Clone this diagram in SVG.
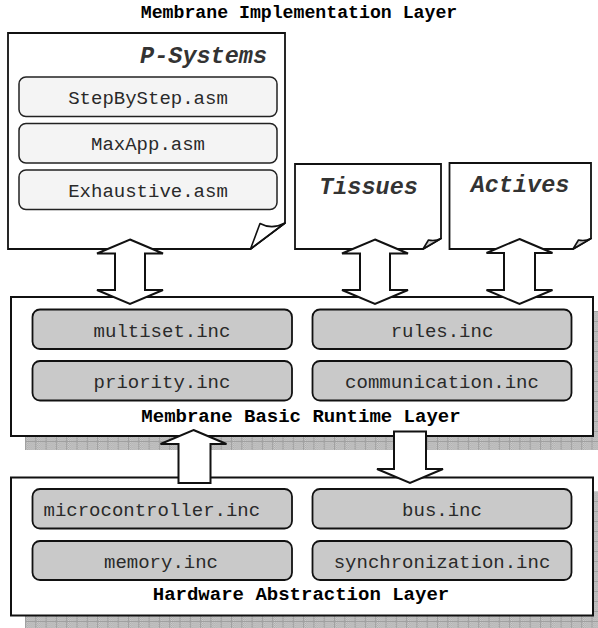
<svg xmlns="http://www.w3.org/2000/svg" width="598" height="628" viewBox="0 0 598 628">
  <defs>
    <!-- dithered grey texture used for the layer drop shadows -->
    <pattern id="dither" width="2" height="2" patternUnits="userSpaceOnUse">
      <rect width="2" height="2" fill="#cccccc"/>
      <rect width="1" height="1" fill="#adadad"/>
      <rect x="1" y="1" width="1" height="1" fill="#adadad"/>
    </pattern>
    <pattern id="shadowGrid" x="25" y="311" width="10.3" height="10" patternUnits="userSpaceOnUse">
      <rect width="10.3" height="10" fill="url(#dither)"/>
      <path d="M0 0.5H10.3M0.5 0V10" stroke="#a0a0a0" stroke-width="1" fill="none"/>
    </pattern>
  </defs>
  <style>
    .layer { fill: #ffffff; stroke: #111111; stroke-width: 2; }
    .shadow { fill: url(#shadowGrid); }
    .doc { fill: #ffffff; stroke: #111111; stroke-width: 1.8; stroke-linejoin: miter; }
    .fold { fill: #ffffff; stroke: #111111; stroke-width: 1.6; stroke-linejoin: round; }
    .foldGrey { fill: #cfcfcf; stroke: #111111; stroke-width: 1.6; stroke-linejoin: round; }
    .appBox { fill: #f4f4f4; stroke: #222222; stroke-width: 1.5; }
    .incBox { fill: #c9c9c9; stroke: #111111; stroke-width: 1.8; }
    .mono { font-family: "Liberation Mono", "Courier New", monospace; font-size: 19px; fill: #2a2a2a; text-anchor: middle; }
    .mono.left { text-anchor: start; }
    .layerLabel { font-family: "Liberation Mono", "Courier New", monospace; font-size: 19px; font-weight: bold; fill: #000000; text-anchor: middle; }
    .heading { font-size: 18.2px; }
    .docTitle { font-family: "Liberation Mono", "Courier New", monospace; font-size: 23.5px; font-weight: bold; font-style: italic; fill: #333333; }
    .arrow { fill: #ffffff; stroke: #111111; stroke-width: 2; stroke-linejoin: miter; }
  </style>

  <!-- page heading -->
  <text class="layerLabel heading" x="299" y="18">Membrane Implementation Layer</text>

  <!-- implementation layer: document shapes -->
  <g id="p-systems">
    <path class="doc" d="M8 33H285V223L250.5 249H8Z"/>
    <path class="fold" d="M250.5 249L260 223.5Q272 230 285 223Z"/>
    <path d="M250.5 249L285 223" stroke="#111" stroke-width="1.4" fill="none"/>
    <text class="docTitle" x="267" y="63" text-anchor="end">P-Systems</text>
    <g id="stepbystep">
      <rect class="appBox" x="19" y="77" width="258" height="39.5" rx="7"/>
      <text class="mono" x="148" y="104">StepByStep.asm</text>
    </g>
    <g id="maxapp">
      <rect class="appBox" x="19" y="123.5" width="258" height="39.5" rx="7"/>
      <text class="mono" x="148" y="150">MaxApp.asm</text>
    </g>
    <g id="exhaustive">
      <rect class="appBox" x="19" y="170" width="258" height="39.5" rx="7"/>
      <text class="mono" x="148" y="196.5">Exhaustive.asm</text>
    </g>
  </g>

  <g id="tissues">
    <path class="doc" d="M295 164H441V238.5L423 249H295Z"/>
    <path class="foldGrey" d="M423 249L428.5 240Q435 241.5 441 238.5Z"/>
    <text class="docTitle" x="368.5" y="194" text-anchor="middle">Tissues</text>
  </g>

  <g id="actives">
    <path class="doc" d="M449.5 163H591V238.5L573 249H449.5Z"/>
    <path class="foldGrey" d="M573 249L578.5 240Q585 241.5 591 238.5Z"/>
    <text class="docTitle" x="520" y="192" text-anchor="middle">Actives</text>
  </g>

  <!-- membrane basic runtime layer -->
  <g id="runtime-layer">
    <rect class="shadow" x="25" y="311" width="582" height="139"/>
    <rect class="layer" x="11" y="297" width="582" height="139"/>
    <g id="multiset">
      <rect class="incBox" x="32.5" y="309.5" width="259.5" height="39.5" rx="7.5"/>
      <text class="mono" x="162" y="336.5">multiset.inc</text>
    </g>
    <g id="priority">
      <rect class="incBox" x="32.5" y="361" width="259.5" height="39.5" rx="7.5"/>
      <text class="mono" x="162" y="388">priority.inc</text>
    </g>
    <g id="rules">
      <rect class="incBox" x="312.5" y="309.5" width="259" height="39.5" rx="7.5"/>
      <text class="mono" x="442" y="336.5">rules.inc</text>
    </g>
    <g id="communication">
      <rect class="incBox" x="312.5" y="361" width="259" height="39.5" rx="7.5"/>
      <text class="mono" x="442" y="388">communication.inc</text>
    </g>
    <text class="layerLabel" x="301" y="421.5">Membrane Basic Runtime Layer</text>
  </g>

  <!-- hardware abstraction layer -->
  <g id="hardware-layer">
    <rect class="shadow" x="25" y="491.5" width="582" height="139"/>
    <rect class="layer" x="11" y="477.5" width="582" height="138"/>
    <g id="microcontroller">
      <rect class="incBox" x="32.5" y="489" width="259.5" height="39.5" rx="7.5"/>
      <text class="mono left" x="43.5" y="515.5">microcontroller.inc</text>
    </g>
    <g id="memory">
      <rect class="incBox" x="32.5" y="541" width="259.5" height="39" rx="7.5"/>
      <text class="mono" x="161" y="568">memory.inc</text>
    </g>
    <g id="bus">
      <rect class="incBox" x="312.5" y="489" width="259" height="39.5" rx="7.5"/>
      <text class="mono" x="442" y="515.5">bus.inc</text>
    </g>
    <g id="synchronization">
      <rect class="incBox" x="312.5" y="541" width="259" height="39" rx="7.5"/>
      <text class="mono" x="442" y="568">synchronization.inc</text>
    </g>
    <text class="layerLabel" x="301" y="600">Hardware Abstraction Layer</text>
  </g>

  <!-- block arrows between layers -->
  <g id="connectors">
    <polygon class="arrow" points="130,239.5 163,253.5 145,253.5 145,290 163,290 130,304 97,290 115,290 115,253.5 97,253.5"/>
    <polygon class="arrow" points="375,239.5 408,253.5 390,253.5 390,290 408,290 375,304 342,290 360,290 360,253.5 342,253.5"/>
    <polygon class="arrow" points="519.5,239 552.5,253 535,253 535,290 552.5,290 519.5,304 486.5,290 504,290 504,253 486.5,253"/>
    <polygon class="arrow" points="193.5,430 226.5,444 210.5,444 210.5,483 178.5,483 178.5,444 160.5,444"/>
    <polygon class="arrow" points="394,431.5 426,431.5 426,469 443,469 410,483 377,469 394,469"/>
  </g>
</svg>
